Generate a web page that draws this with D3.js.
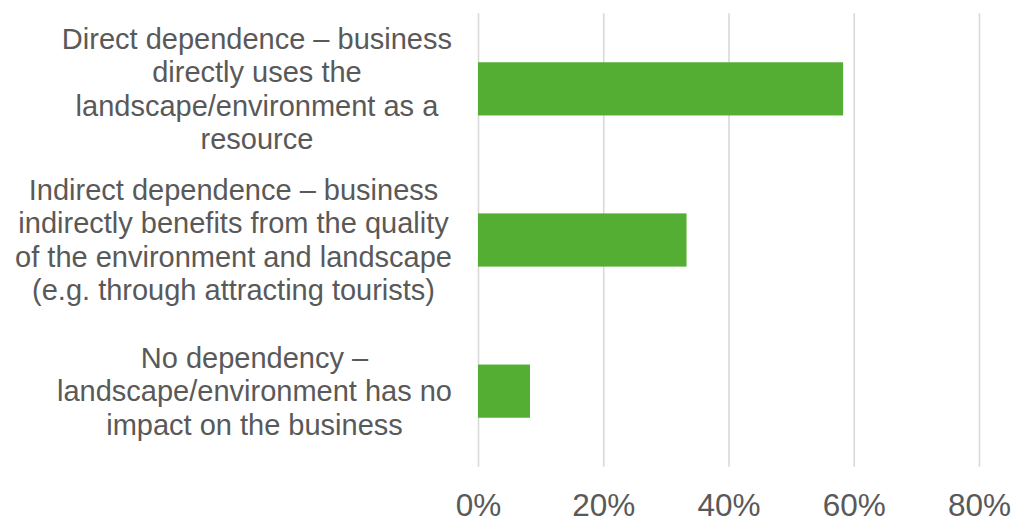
<!DOCTYPE html>
<html>
<head>
<meta charset="utf-8">
<script src="https://cdn.jsdelivr.net/npm/d3@7"></script>
<style>
  html, body { margin: 0; padding: 0; background: #ffffff; }
  svg { display: block; }
</style>
</head>
<body>
<svg id="chart" width="1011" height="517"></svg>
<script>
// Survey categories, each split into the lines it is printed on
const categories = [
  "Direct dependence",
  "Indirect dependence",
  "No dependency"
];
const categoryLines = [
  ["Direct dependence \u2013 business", "directly uses the", "landscape/environment as a", "resource"],
  ["Indirect dependence \u2013 business", "indirectly benefits from the quality", "of the environment and landscape", "(e.g. through attracting tourists)"],
  ["No dependency \u2013", "landscape/environment has no", "impact on the business"]
];
// Share of respondents
const shares = [0.583, 0.333, 0.083];
const tickValues = [0, 0.2, 0.4, 0.6, 0.8];

const svg = d3.select("#chart");
const plot = { left: 478, right: 979, top: 13.3, bottom: 466.7 };
const textColor = "#595959";
const font = "'Liberation Sans', Arial, sans-serif";

const x = d3.scaleLinear().domain([0, 0.8]).range([plot.left, plot.right]);
const y = d3.scaleBand()
  .domain(categories)
  .range([plot.top, plot.bottom])
  .paddingInner(0.648)
  .paddingOuter(0.324);

// Vertical gridlines and percentage tick labels
const axis = d3.axisBottom(x)
  .tickValues(tickValues)
  .tickFormat(d3.format(".0%"))
  .tickSize(-(plot.bottom - plot.top))
  .tickPadding(0);

const gAxis = svg.append("g")
  .attr("transform", `translate(0,${plot.bottom})`)
  .call(axis);
gAxis.select(".domain").remove();
gAxis.selectAll(".tick line")
  .attr("stroke", "#d9d9d9")
  .attr("stroke-width", 1.6);
gAxis.selectAll(".tick text")
  .attr("fill", textColor)
  .attr("font-family", font)
  .attr("font-size", 31.5)
  .attr("dy", null)
  .attr("y", 49.3);

// Bars
svg.append("g")
  .selectAll("rect")
  .data(categories)
  .join("rect")
  .attr("x", x(0))
  .attr("y", d => y(d))
  .attr("width", (d, i) => x(shares[i]) - x(0))
  .attr("height", y.bandwidth())
  .attr("fill", "#53ae33");

// Category labels: lines centred on each other, block right-aligned next to the plot
const labelRight = 452;
const lineHeight = 33.4;
const gLabels = svg.append("g");
categories.forEach((c, i) => {
  const lines = categoryLines[i];
  const cy = y(c) + y.bandwidth() / 2;
  const g = gLabels.append("g");
  const texts = g.selectAll("text")
    .data(lines)
    .join("text")
    .attr("text-anchor", "middle")
    .attr("font-family", font)
    .attr("font-size", 29)
    .attr("fill", textColor)
    .attr("y", (d, j) => cy + (j - (lines.length - 1) / 2) * lineHeight)
    .attr("dy", "0.35em")
    .text(d => d);
  const maxW = d3.max(texts.nodes(), n => n.getComputedTextLength());
  texts.attr("x", labelRight - maxW / 2);
});
</script>
</body>
</html>
